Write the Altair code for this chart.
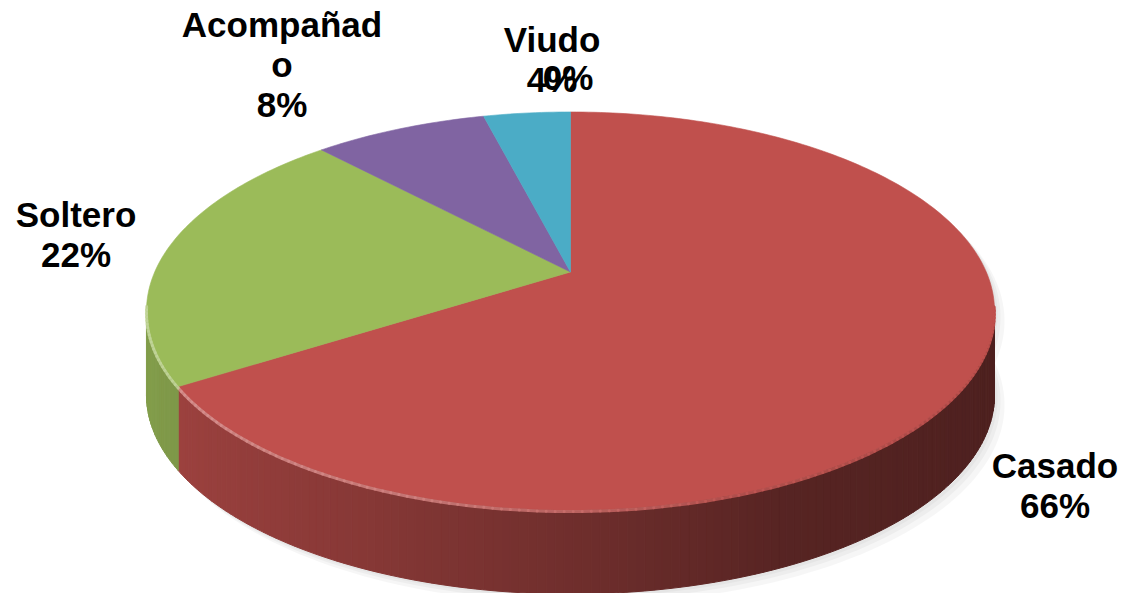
import numpy as np
import pandas as pd
import altair as alt

# ---- data ----
categories = ["Casado", "Soltero", "Acompañado", "Viudo", ""]
percent = [66, 22, 8, 4, 0]
base_colors = ["#C0504D", "#9BBB59", "#8064A2", "#4BACC6", "#F79646"]

# ---- layout / style ----
label_pos = [(1055, 478), (76, 227), (282, 37), (552, 52), (568, 90)]
CX, CY = 570.5, 272.0     # apex of the pie on screen
A, B, P = 415.8, 191.4, 0.196   # perspective ellipse params
H = 84.0                   # thickness of the pie
shade_u = [-1.0, -0.4, 0.0, 0.43, 1.0]
shade_f = [0.85, 0.70, 0.58, 0.45, 0.40]


def hex2rgb(h):
    h = h.lstrip("#")
    return np.array([int(h[i:i + 2], 16) for i in (0, 2, 4)], dtype=float)


def rgb2hex(c):
    c = np.clip(np.round(c), 0, 255).astype(int)
    return "#%02x%02x%02x" % tuple(c)


def proj(t, r=1.0):
    u = r * np.sin(t)
    v = -r * np.cos(t)
    d = 1 - P * v
    return CX + A * u / d, CY + B * v / d


total = float(sum(percent))
fr = np.array(percent) / total
ends = np.cumsum(fr)
starts = ends - fr

top_rows, side_rows, rim_rows, shadow_rows = [], [], [], []

for k, (cat, s, e) in enumerate(zip(categories, starts, ends)):
    if e - s <= 0:
        continue
    base = hex2rgb(base_colors[k])
    t0, t1 = s * 2 * np.pi, e * 2 * np.pi
    n = max(2, int(np.ceil((t1 - t0) / np.radians(1.0))))
    ts = np.linspace(t0, t1, n + 1)
    # top face polygon
    pts = [(CX, CY)] + [proj(t) for t in ts] + [(CX, CY)]
    for i, (x, y) in enumerate(pts):
        top_rows.append(dict(pid=f"t{k}", i=i, x=x, y=y, col=base_colors[k]))
    # side strips and rim highlight
    for j in range(n):
        ta, tb = ts[j], ts[j + 1]
        tm = 0.5 * (ta + tb)
        vm = -np.cos(tm)
        if vm < P - 0.03:
            continue
        um = np.sin(tm)
        f = np.interp(um, shade_u, shade_f)
        col = rgb2hex(base * f)
        xa, ya = proj(ta)
        xb, yb = proj(tb)
        poly = [(xa, ya), (xb, yb), (xb, yb + H), (xa, ya + H), (xa, ya)]
        for i, (x, y) in enumerate(poly):
            side_rows.append(dict(pid=f"s{k}_{j}", i=i, x=x, y=y, col=col))
        w = np.interp(um, [-1, -0.3, 0.3, 1], [0.40, 0.30, 0.05, 0.0])
        rc = rgb2hex(base * (1 - w) + 255 * w)
        rim_rows.append(dict(pid=f"r{k}_{j}", i=0, x=xa, y=ya + 1.5, col=rc))
        rim_rows.append(dict(pid=f"r{k}_{j}", i=1, x=xb, y=yb + 1.5, col=rc))

# soft shadow outline
tt = np.linspace(0, 2 * np.pi, 241)
for m, off in enumerate([3, 6, 10]):
    for part, dy in (("top", 0.0), ("bot", H)):
        for i, t in enumerate(tt):
            x, y = proj(t)
            shadow_rows.append(dict(pid=f"sh{m}{part}", i=i, x=x + off, y=y + dy + off,
                                    col="#7f7f7f"))

top_df = pd.DataFrame(top_rows)
side_df = pd.DataFrame(side_rows)
rim_df = pd.DataFrame(rim_rows)
shadow_df = pd.DataFrame(shadow_rows)

labels = []
for k, (cat, p) in enumerate(zip(categories, percent)):
    name = cat if len(cat) <= 9 else cat[:9] + "\n" + cat[9:]
    txt = f"{name}\n{p}%" if name else f"{p}%"
    labels.append(dict(label=txt, x=label_pos[k][0], y=label_pos[k][1]))
lab_df = pd.DataFrame(labels)

xs = alt.Scale(domain=[8, 1122], nice=False, zero=False)
ys = alt.Scale(domain=[8, 593], reverse=True, nice=False, zero=False)


def polys(df, stroke_w=1.0, opacity=1.0):
    return alt.Chart(df).mark_line(filled=True, strokeWidth=stroke_w, opacity=opacity,
                                   strokeJoin="round").encode(
        x=alt.X("x:Q", scale=xs, axis=None),
        y=alt.Y("y:Q", scale=ys, axis=None),
        detail="pid:N",
        order="i:Q",
        color=alt.Color("col:N", scale=None),
        stroke=alt.Stroke("col:N", scale=None),
    )


shadow = polys(shadow_df, stroke_w=0, opacity=0.07)
side = polys(side_df, stroke_w=1.0)
top = polys(top_df, stroke_w=0.6)
rim = alt.Chart(rim_df).mark_line(strokeWidth=3, strokeCap="round", opacity=0.8).encode(
    x=alt.X("x:Q", scale=xs, axis=None),
    y=alt.Y("y:Q", scale=ys, axis=None),
    detail="pid:N",
    order="i:Q",
    color=alt.Color("col:N", scale=None),
)

text = alt.Chart(lab_df).mark_text(
    font="Liberation Sans", fontWeight="bold", fontSize=35, lineBreak="\n",
    lineHeight=40, align="center", baseline="alphabetic", color="black",
).encode(
    x=alt.X("x:Q", scale=xs, axis=None),
    y=alt.Y("y:Q", scale=ys, axis=None),
    text="label:N",
)

chart = alt.layer(shadow, side, top, rim, text).properties(
    width=1114, height=585, padding=0,
    autosize=alt.AutoSizeParams(type="none"),
).configure_view(stroke=None)

chart.save("out.html", embed_options={"renderer": "svg", "actions": False})
